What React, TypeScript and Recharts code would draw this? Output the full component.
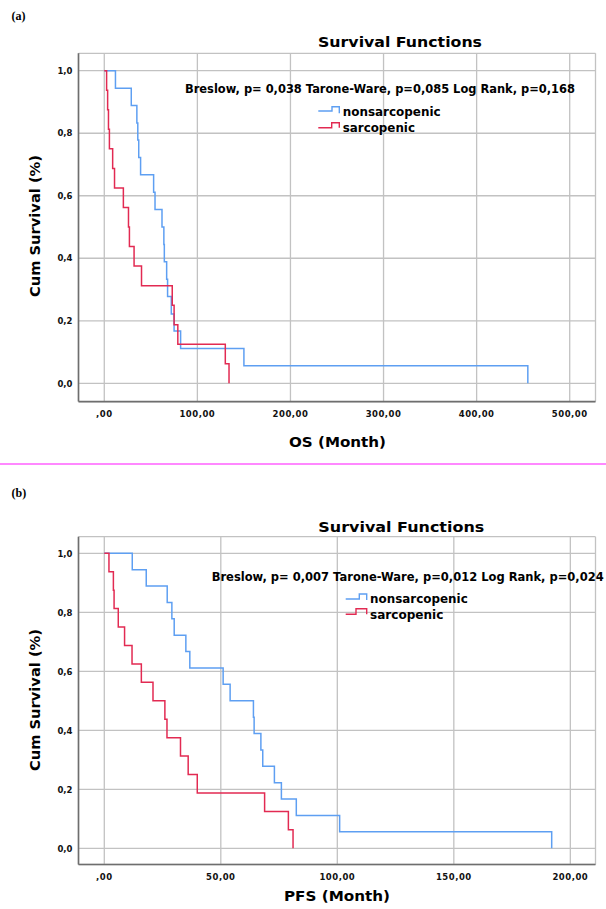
import React from 'react';
import { LineChart, Line, XAxis, YAxis, CartesianGrid } from 'recharts';

// (a) overall survival, months / cumulative survival
const osNonTime = [0, 12, 29, 35, 36, 37, 39, 53, 54.5, 62, 64, 64.5, 67, 68, 72, 75, 82, 150, 455];
const osNonSurv = [1, 0.944, 0.889, 0.833, 0.778, 0.722, 0.667, 0.611, 0.556, 0.5, 0.444, 0.389, 0.333, 0.278, 0.222, 0.167, 0.111, 0.056, 0];
const osSarcTime = [0, 2.5, 3.6, 4.5, 5.5, 9, 11, 20.5, 26, 27, 32, 40, 73, 75, 79, 130, 134];
const osSarcSurv = [1, 0.9375, 0.875, 0.8125, 0.75, 0.6875, 0.625, 0.5625, 0.5, 0.4375, 0.375, 0.3125, 0.25, 0.1875, 0.125, 0.0625, 0];

// (b) progression free survival
const pfsNonTime = [0, 12, 18, 27, 29, 30, 35, 36.7, 51, 54, 64, 64.3, 67.2, 68, 73, 76, 82.4, 101, 192];
const pfsNonSurv = [1, 0.944, 0.889, 0.833, 0.778, 0.722, 0.667, 0.611, 0.556, 0.5, 0.444, 0.389, 0.333, 0.278, 0.222, 0.167, 0.111, 0.056, 0];
const pfsSarcTime = [0, 2, 3.9, 4.2, 6, 8.7, 11.9, 15.9, 20.9, 26, 26.9, 32.7, 36, 39.9, 68.8, 79, 81];
const pfsSarcSurv = [1, 0.9375, 0.875, 0.8125, 0.75, 0.6875, 0.625, 0.5625, 0.5, 0.4375, 0.375, 0.3125, 0.25, 0.1875, 0.125, 0.0625, 0];

const osTicks = [0, 100, 200, 300, 400, 500];
const pfsTicks = [0, 50, 100, 150, 200];
const survTicks = [0, 0.2, 0.4, 0.6, 0.8, 1];

const groups = ['nonsarcopenic', 'sarcopenic'];
const pvalA = 'Breslow, p= 0,038 Tarone-Ware, p=0,085 Log Rank, p=0,168';
const pvalB = 'Breslow, p= 0,007 Tarone-Ware, p=0,012 Log Rank, p=0,024';

const BLUE = '#5e9ff2';
const RED = '#e22a52';
const GRID = '#c2c2c2';
const AXIS = '#6e6e6e';
const FONT = '"DejaVu Sans", Verdana, sans-serif';

const toRows = (t: number[], s: number[]) => t.map((v, i) => ({ t: v, s: s[i] }));
const fmtX = (v: number) => (v === 0 ? ',00' : v.toFixed(2).replace('.', ','));
const fmtY = (v: number) => v.toFixed(1).replace('.', ',');

function XTick({ x, y, payload }: any) {
  return (
    <text x={x} y={y} dy={7.2} textAnchor="middle" fontFamily={FONT} fontSize={8.5} fontWeight={700}
      letterSpacing={0.5} fill="#111">
      {fmtX(payload.value)}
    </text>
  );
}

function YTick({ x, y, payload }: any) {
  return (
    <text x={x} y={y} dy={3.2} textAnchor="end" fontFamily={FONT} fontSize={8.5} fontWeight={700}
      fill="#111">
      {fmtY(payload.value)}
    </text>
  );
}

interface PanelProps {
  top: number;
  height: number;
  mTop: number;
  mBottom: number;
  xDomain: [number, number];
  yDomain: [number, number];
  xTicks: number[];
  non: { t: number; s: number }[];
  sarc: { t: number; s: number }[];
}

function Panel({ top, height, mTop, mBottom, xDomain, yDomain, xTicks, non, sarc }: PanelProps) {
  return (
    <div style={{ position: 'absolute', left: 0, top, width: 606, height }}>
      <LineChart width={606} height={height} margin={{ top: mTop, right: 10.5, bottom: mBottom, left: 0 }}>
        <CartesianGrid stroke={GRID} strokeWidth={1.3} />
        <XAxis dataKey="t" type="number" domain={xDomain} ticks={xTicks} allowDataOverflow
          height={20} tickSize={0} tickMargin={8} tickLine={false}
          axisLine={{ stroke: AXIS, strokeWidth: 1.6 }} tick={<XTick />} />
        <YAxis type="number" domain={yDomain} ticks={survTicks} allowDataOverflow
          width={78.5} tickSize={0} tickMargin={6} tickLine={false}
          axisLine={{ stroke: AXIS, strokeWidth: 1.6 }} tick={<YTick />} />
        <Line data={non} dataKey="s" name={groups[0]} type="stepAfter" stroke={BLUE} strokeWidth={1.5}
          dot={false} activeDot={false} isAnimationActive={false} />
        <Line data={sarc} dataKey="s" name={groups[1]} type="stepAfter" stroke={RED} strokeWidth={1.5}
          dot={false} activeDot={false} isAnimationActive={false} />
      </LineChart>
    </div>
  );
}

function T({ x, y, w, size = 12, anchor = 'start', children, rotate }: any) {
  return (
    <text x={x} y={y} fontFamily={FONT} fontWeight={700} fontSize={size} fill="#000"
      textAnchor={anchor} textLength={w} lengthAdjust="spacingAndGlyphs"
      transform={rotate ? `rotate(-90 ${x} ${y})` : undefined}>
      {children}
    </text>
  );
}

function Overlay() {
  return (
    <svg width={606} height={909} style={{ position: 'absolute', left: 0, top: 0, pointerEvents: 'none' }}>
      {/* panel a */}
      <text x={11.5} y={20} fontFamily='"Liberation Serif", serif' fontWeight={700} fontSize={12}>(a)</text>
      <T x={318} y={46.7} w={164} size={14}>Survival Functions</T>
      <T x={185} y={92.5} w={390} size={11.5}>{pvalA}</T>
      <path d="M318.3,111 H332 V106.7 H339.3 V113.3" stroke={BLUE} strokeWidth={1.4} fill="none" />
      <path d="M318.3,127.7 H331.7 V122.7 H339.3 V127.7" stroke={RED} strokeWidth={1.4} fill="none" />
      <T x={342.7} y={115.5} w={98} size={11.5}>{groups[0]}</T>
      <T x={342.7} y={131.5} w={72.3} size={11.5}>{groups[1]}</T>
      <T x={40} y={226} w={142} size={13.5} anchor="middle" rotate>Cum Survival (%)</T>
      <T x={337.5} y={447} w={97} size={14} anchor="middle">OS (Month)</T>

      {/* panel b */}
      <text x={11.5} y={497} fontFamily='"Liberation Serif", serif' fontWeight={700} fontSize={12}>(b)</text>
      <T x={318.3} y={532} w={166} size={14}>Survival Functions</T>
      <T x={211.7} y={581} w={392} size={11.5}>{pvalB}</T>
      <path d="M345.7,599 H359.3 V594 H366.7 V600" stroke={BLUE} strokeWidth={1.4} fill="none" />
      <path d="M345.7,614.3 H356 V608.7 H366.7 V614.3" stroke={RED} strokeWidth={1.4} fill="none" />
      <T x={370} y={603} w={97.7} size={11.5}>{groups[0]}</T>
      <T x={370} y={618.5} w={73.3} size={11.5}>{groups[1]}</T>
      <T x={40} y={700} w={142} size={13.5} anchor="middle" rotate>Cum Survival (%)</T>
      <T x={337} y={901} w={106} size={14} anchor="middle">PFS (Month)</T>
    </svg>
  );
}

export default function App() {
  return (
    <div style={{ position: 'absolute', left: 0, top: 0, width: 606, height: 909, background: '#fff', overflow: 'hidden' }}>
      <Panel top={0} height={463} mTop={53.3} mBottom={41.4}
        xDomain={[-27.7, 527.7]} yDomain={[-0.0585, 1.0557]} xTicks={osTicks}
        non={toRows(osNonTime, osNonSurv)} sarc={toRows(osSarcTime, osSarcSurv)} />
      <div style={{ position: 'absolute', left: 0, top: 462.8, width: 606, height: 1.8, background: '#ff88ff' }} />
      <Panel top={465} height={444} mTop={71.7} mBottom={24.5}
        xDomain={[-11.07, 210.8]} yDomain={[-0.0549, 1.0563]} xTicks={pfsTicks}
        non={toRows(pfsNonTime, pfsNonSurv)} sarc={toRows(pfsSarcTime, pfsSarcSurv)} />
      <Overlay />
    </div>
  );
}
